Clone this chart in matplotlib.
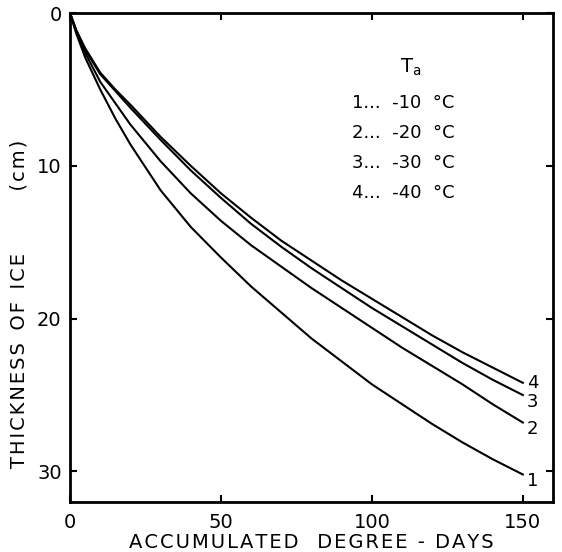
import matplotlib
matplotlib.use('Agg')
import matplotlib.pyplot as plt

# Data
degree_days = [0, 2, 5, 10, 15, 20, 30, 40, 50, 60, 70, 80, 90, 100, 110, 120, 130, 140, 150]
ice_m10 = [0, 1.3, 2.9, 5.0, 6.9, 8.6, 11.6, 14.0, 16.0, 17.9, 19.6, 21.3, 22.8, 24.3, 25.6, 26.9, 28.1, 29.2, 30.2]
ice_m20 = [0, 1.2, 2.6, 4.5, 5.9, 7.3, 9.7, 11.8, 13.6, 15.2, 16.6, 18.0, 19.3, 20.6, 21.9, 23.1, 24.3, 25.6, 26.8]
ice_m30 = [0, 1.1, 2.4, 4.0, 5.1, 6.2, 8.3, 10.3, 12.1, 13.8, 15.3, 16.7, 18.0, 19.3, 20.5, 21.7, 22.9, 24.0, 25.0]
ice_m40 = [0, 1.1, 2.3, 3.9, 5.0, 6.0, 8.1, 10.0, 11.8, 13.4, 14.9, 16.2, 17.5, 18.7, 19.9, 21.1, 22.2, 23.2, 24.2]
curve_ids = ['1', '2', '3', '4']
air_temps = ['-10', '-20', '-30', '-40']
label_dy = [-5, -5, -5, 0]   # offset of end labels, points


def spaced(s):
    # wide lettering like the original drawing
    return '\u200a'.join(s)


fig = plt.figure(figsize=(5.62, 5.52), dpi=100)
ax = fig.add_axes([0.1246, 0.0906, 0.8594, 0.8858])

for cid, ys, dy in zip(curve_ids, [ice_m10, ice_m20, ice_m30, ice_m40], label_dy):
    ax.plot(degree_days, ys, color='black', lw=1.5)
    ax.annotate(cid, (degree_days[-1], ys[-1]), xytext=(3, dy), textcoords='offset points',
                ha='left', va='center', fontsize=13)

ax.set_xlim(0, 160)
ax.set_ylim(32, 0)
ax.set_xticks([0, 50, 100, 150])
ax.set_yticks([0, 10, 20, 30])
ax.tick_params(direction='in', top=True, right=True, length=5, width=1.5,
               labelsize=14, pad=6)
ax.tick_params(axis='x', pad=8)
for s in ax.spines.values():
    s.set_linewidth(2)

ax.set_xlabel(spaced('ACCUMULATED') + '   ' + spaced('DEGREE - DAYS'), fontsize=14, labelpad=1)
ax.text(-0.105, 0.405, spaced('THICKNESS') + '  ' + spaced('OF') + '  ' + spaced('ICE')
        + '          ' + spaced('(cm)'), transform=ax.transAxes,
        rotation=90, ha='center', va='center', fontsize=14)

# temperature key
ax.text(0.705, 0.888, r'T$_\mathregular{a}$', transform=ax.transAxes, fontsize=14,
        ha='center', va='center')
for i, (cid, t) in enumerate(zip(curve_ids, air_temps)):
    ax.text(0.583, 0.816 - i * 0.0613, cid + '...  ' + t + '  \u00b0C', transform=ax.transAxes,
            fontsize=13, ha='left', va='center')

fig.savefig('out.png', dpi=100)
